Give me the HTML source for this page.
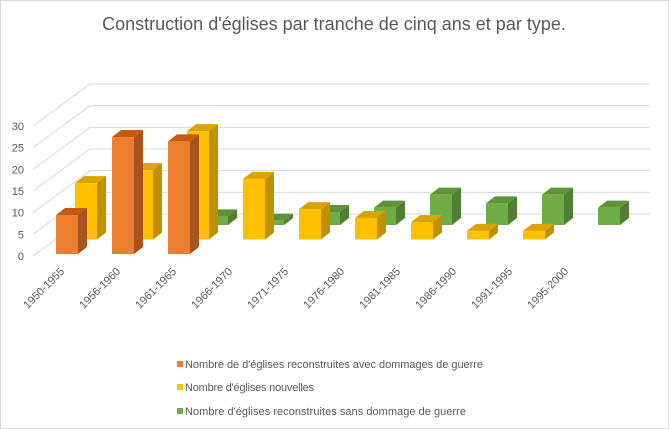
<!DOCTYPE html>
<html><head><meta charset="utf-8"><style>
html,body{margin:0;padding:0;background:#fff;}
svg{display:block;font-family:"Liberation Sans",sans-serif;}
</style></head><body>
<svg id="chart" width="669" height="429" viewBox="0 0 669 429">
<rect x="0.5" y="0.5" width="668" height="428" fill="#fff" stroke="#d9d9d9"/>
<text x="334" y="30" text-anchor="middle" font-size="18" fill="#595959">Construction d'églises par tranche de cinq ans et par type.</text>
<g id="grid"></g><g id="bars"></g><g id="xlabels"></g>
<g>
<rect x="177" y="361" width="6" height="6" fill="#ED7D31"/>
<text x="185" y="368" font-size="11" fill="#595959" textLength="298">Nombre de d'églises reconstruites avec dommages de guerre</text>
<rect x="177" y="384" width="6" height="6" fill="#FFC000"/>
<text x="185" y="391" font-size="11" fill="#595959" textLength="129">Nombre d'églises nouvelles</text>
<rect x="177" y="408" width="6" height="6" fill="#70AD47"/>
<text x="185" y="415" font-size="11" fill="#595959" textLength="281">Nombre d'églises reconstruites sans dommage de guerre</text>
</g>
</svg>
<script>
const categories=["1950-1955","1956-1960","1961-1965","1966-1970","1971-1975","1976-1980","1981-1985","1986-1990","1991-1995","1995-2000"];
const damaged=[9,27,26,0,0,0,0,0,0,0];
const newer=[13,16,25,14,7,5,4,2,2,0];
const undamaged=[0,0,2,1,3,4,7,5,7,4];
const yTicks=[0,5,10,15,20,25,30];
const NS="http://www.w3.org/2000/svg";
const svg=document.getElementById('chart');
const PX=130/30, Y0=256, X0=56, STEP=56, BW=22, RDX=19, RDY=-14.5, DX=9, DY=-7;
function yv(v){return Y0-v*PX;}
function xc(i){return X0+i*STEP;}
function mk(tag,attrs,parent){const e=document.createElementNS(NS,tag);for(const k in attrs)e.setAttribute(k,attrs[k]);parent.appendChild(e);return e;}
const grid=document.getElementById('grid');
yTicks.forEach(t=>{
  const y=yv(t);
  const l=mk('polyline',{points:`33,${y} 90,${y-42} 650,${y-42}`,fill:'none',stroke:'#d9d9d9','stroke-width':1},grid);
  
  
  const tx=mk('text',{x:24,y:y+4,'text-anchor':'end','font-size':11,fill:'#595959'},grid);
  tx.textContent=t;
  
  
});
const bars=document.getElementById('bars');
const series=[[undamaged,2,'#70AD47','#507E32','#5E9438','undamaged'],[newer,1,'#FFC000','#BF9000','#D9A300','new'],[damaged,0,'#ED7D31','#A9521C','#C55A11','damaged']];
series.forEach(([vals,row,cf,cs,ct,nm])=>{
  vals.forEach((v,i)=>{
    if(!v)return;
    const x=xc(i)+row*RDX, base=Y0-2+row*RDY, top=base-v*PX;
    const g=mk('g',{},bars);
    
    
    mk('rect',{x:x,y:top,width:BW,height:base-top,fill:cf},g);
    mk('polygon',{points:`${x+BW},${top} ${x+BW+DX},${top+DY} ${x+BW+DX},${base+DY} ${x+BW},${base}`,fill:cs},g);
    mk('polygon',{points:`${x},${top} ${x+DX},${top+DY} ${x+BW+DX},${top+DY} ${x+BW},${top}`,fill:ct},g);
  });
});
const xl=document.getElementById('xlabels');
categories.forEach((c,i)=>{
  const x=xc(i)+9, y=272;
  const t=mk('text',{x:x,y:y,'text-anchor':'end','font-size':11,fill:'#595959',transform:`rotate(-45 ${x} ${y})`},xl);
  t.textContent=c;
  
  
});
</script>
</body></html>
